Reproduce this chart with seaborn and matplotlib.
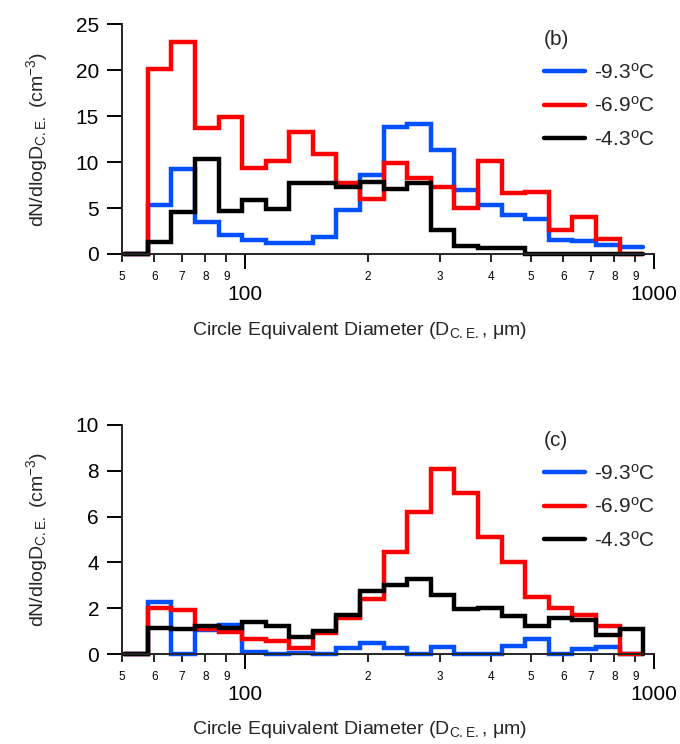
import numpy as np
import pandas as pd
import matplotlib
matplotlib.use('Agg')
import matplotlib.pyplot as plt
import seaborn as sns
from matplotlib.lines import Line2D

# ---- data ----
bin_edges = [50.6, 57.8, 66.0, 75.4, 86.1, 98.3, 112.3, 128.2, 146.4, 167.2, 191.0,
             218.1, 249.1, 284.6, 325.0, 371.2, 424.0, 484.2, 553.0, 631.6, 721.4,
             823.9, 940.9]
temps = ['-9.3', '-6.9', '-4.3']
colors = ['#0050FF', '#FF0000', '#000000']

b_blue = [0, 5.3, 9.2, 3.5, 2.1, 1.5, 1.2, 1.2, 1.9, 4.8, 8.6, 13.8, 14.1, 11.3, 7.0,
          5.3, 4.2, 3.8, 1.5, 1.45, 1.0, 0.8, 0.8]
b_red = [0, 20.1, 23.0, 13.7, 14.9, 9.3, 10.1, 13.3, 10.9, 7.75, 6.0, 9.9, 8.3, 7.25,
         5.0, 10.1, 6.6, 6.7, 2.6, 4.0, 1.6, 0, 0]
b_black = [0, 1.35, 4.6, 10.3, 4.7, 5.9, 4.9, 7.7, 7.75, 7.3, 7.8, 7.1, 7.7, 2.6, 0.9,
           0.6, 0.6, 0, 0, 0, 0, 0, 0]

c_blue = [0, 2.29, 0, 1.05, 1.27, 0.1, 0, 0.03, 0, 0.25, 0.5, 0.25, 0, 0.29, 0, 0,
          0.35, 0.64, 0, 0.22, 0.29, 0, 0]
c_red = [0, 2.0, 1.9, 1.1, 0.95, 0.64, 0.57, 0.25, 0.93, 1.56, 2.4, 4.47, 6.22, 8.06,
         7.05, 5.1, 4.0, 2.47, 2.0, 1.7, 1.22, 0, 0]
c_black = [0, 1.12, 1.1, 1.24, 1.12, 1.38, 1.24, 0.73, 1.02, 1.7, 2.74, 3.0, 3.27, 2.58,
           1.97, 2.0, 1.66, 1.22, 1.56, 1.48, 0.83, 1.08, 0]

major_ticks = [100, 1000]
major_labels = ['100', '1000']
minor_ticks = [50, 60, 70, 80, 90, 200, 300, 400, 500, 600, 700, 800, 900]
minor_labels = ['5', '6', '7', '8', '9', '2', '3', '4', '5', '6', '7', '8', '9']

sns.set_style('ticks')
plt.rcParams['font.family'] = ['Liberation Sans', 'DejaVu Sans']
plt.rcParams['mathtext.default'] = 'regular'

W, H = 680, 744
fig = plt.figure(figsize=(W / 100, H / 100), dpi=100)


def make_df(vals):
    rows = []
    for t, v in zip(temps, vals):
        for e, y in zip(bin_edges, v):
            rows.append({'D': e, 'N': y, 'T': t})
    return pd.DataFrame(rows)


def panel(rect, vals, ymax, ystep, tag):
    ax = fig.add_axes(rect)
    df = make_df(vals)
    sns.lineplot(data=df, x='D', y='N', hue='T', hue_order=temps,
                 palette=dict(zip(temps, colors)), estimator=None, sort=False,
                 drawstyle='steps-post', linewidth=3.2, legend=False, ax=ax,
                 clip_on=False, solid_joinstyle='miter')
    ax.set_xscale('log')
    ax.set_xlim(50, 1000)
    ax.set_ylim(0, ymax)
    ax.set_yticks(np.arange(0, ymax + 0.01, ystep))
    ax.yaxis.set_major_formatter(matplotlib.ticker.FormatStrFormatter('%d'))
    ax.set_xticks(major_ticks)
    ax.set_xticklabels(major_labels)
    ax.set_xticks(minor_ticks, minor=True)
    ax.set_xticklabels(minor_labels, minor=True)
    for s in ['top', 'right']:
        ax.spines[s].set_visible(False)
    for s in ['left', 'bottom']:
        ax.spines[s].set_linewidth(1.4)
    ax.tick_params(axis='y', which='major', length=10.5, width=1.4, labelsize=15, pad=6,
                   direction='out', colors='black')
    ax.tick_params(axis='x', which='major', length=10.5, width=1.4, labelsize=15, pad=12,
                   direction='out', colors='black')
    ax.tick_params(axis='x', which='minor', length=5.5, width=1.2, labelsize=8.5, pad=7,
                   direction='out', colors='black')
    ax.set_xlabel('Circle Equivalent Diameter (D$_{C.E.}$, \u03bcm)', fontsize=14)
    ax.set_ylabel('dN/dlogD$_{C.E.}$ (cm$^{-3}$)', fontsize=14)
    ax.xaxis.set_label_coords(0.447, -0.285)
    ax.yaxis.set_label_coords(-0.135, 0.5)
    handles = [Line2D([], [], color=c, lw=3.2) for c in colors]
    labels = [t + '$^{o}$C' for t in temps]
    ax.legend(handles, labels, title=tag, title_fontsize=15, fontsize=15,
              frameon=False, loc='upper left', bbox_to_anchor=(0.793, 0.975),
              borderpad=0, borderaxespad=0, handlelength=1.95, handletextpad=0.45,
              labelspacing=0.65, alignment='left')
    ax.set_facecolor('white')
    return ax


ax1 = panel([122 / W, 1 - 254 / H, 532 / W, 230 / H], [b_blue, b_red, b_black], 25, 5, '(b)')
ax2 = panel([122 / W, 1 - 654 / H, 532 / W, 229 / H], [c_blue, c_red, c_black], 10, 2, '(c)')

fig.savefig('out.png', dpi=100, facecolor='white')
